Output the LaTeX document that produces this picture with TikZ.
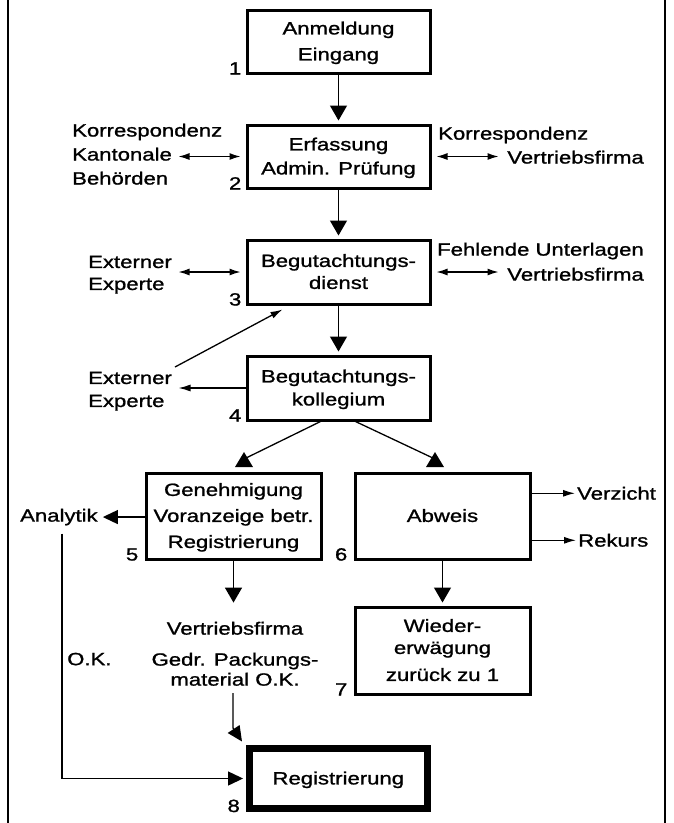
\documentclass[tikz,border=0pt]{standalone}
\usepackage{fontspec}
\setmainfont{Liberation Sans}[FakeStretch=1.25,FakeBold=1.2]
\usetikzlibrary{arrows.meta}
\begin{document}
\begin{tikzpicture}[x=1pt,y=-1pt,
	every node/.style={inner sep=0pt,font=\fontsize{17.7}{24}\selectfont},
	kasten/.style={draw,line width=3pt,align=center,text depth=1pt,minimum width=183pt,minimum height=63pt},
	kastenklein/.style={kasten,minimum width=175pt,minimum height=86pt},
	etikett/.style={anchor=north west,align=left},
	nummer/.style={anchor=base east,xshift=-4pt},
	linie/.style={line width=1.3pt},
	pfeil/.style={linie,-{Triangle[length=15pt,width=17pt]},shorten >=3pt},
	doppel/.style={linie,{Latex[length=11pt,width=7pt]}-{Latex[length=11pt,width=7pt]}},
	einfach/.style={linie,-{Latex[length=12pt,width=7pt]}},
	gross/.style={linie,-{Triangle[length=15pt,width=14pt]}}]
	\useasboundingbox (0,0) rectangle (673,823);
	\draw[line width=1.5pt] (8,0) -- (8,823) (665,0) -- (665,823);

	\node[kasten] (anm) at (338.5,41.5) {Anmeldung\\[2pt]Eingang};
	\node[kasten] (erf) at (338.5,156.5) {Erfassung\\Admin. Prüfung};
	\node[kasten,minimum height=64pt] (gutd) at (338.5,272) {Begutachtungs-\\[-2pt]dienst};
	\node[kasten,minimum height=64pt] (kolleg) at (338.5,388) {Begutachtungs-\\[-1pt]kollegium};
	\node[kastenklein] (gen) at (233.5,516) {Genehmigung\\[2pt]Voranzeige betr.\\[2pt]Registrierung};
	\node[kastenklein] (abw) at (442.5,516) {Abweis};
	\node[kastenklein,minimum height=87pt] (wied) at (442.5,650.5) {Wieder-\\[-2pt]erwägung\\[3pt]zurück zu 1};
	\node[kasten,line width=7pt,minimum width=177.5pt,minimum height=60pt] (reg) at (338.3,778.5) {Registrierung};

	\node[nummer] (n1) at (anm.south west) {1};
	\node[nummer] (n2) at (erf.south west) {2};
	\node[nummer] (n3) at (gutd.south west) {3};
	\node[nummer] (n4) at (kolleg.south west) {4};
	\node[nummer,xshift=-2pt] (n5) at (gen.south west) {5};
	\node[nummer,xshift=-2pt] (n6) at (abw.south west) {6};
	\node[nummer,xshift=-2pt] (n7) at (wied.south west) {7};
	\node[nummer,xshift=-2pt] (n8) at (reg.south west) {8};

	\node[etikett] (korrL) at (72,123.5) {Korrespondenz\\Kantonale\\Behörden};
	\node[etikett] (korrR) at (438,126.6) {Korrespondenz};
	\node[anchor=north east] (vfR) at (644,150.5) {Vertriebsfirma};
	\node[etikett] (extL) at (88,255.6) {Externer\\[-2pt]Experte};
	\node[anchor=north east,align=right] (fehl) at (644,242.6) {Fehlende Unterlagen\\[1pt]Vertriebsfirma};
	\node[etikett] (extK) at (88,371.6) {Externer\\[-1pt]Experte};
	\node[etikett] (verz) at (577,486.6) {Verzicht};
	\node[etikett] (rek) at (578,533.6) {Rekurs};
	\node[etikett] (analytik) at (20,508.6) {Analytik};
	\node[etikett] (ok) at (67,652.6) {O.K.};
	\node[anchor=north,align=center] (vf) at (235,621.6) {Vertriebsfirma\\[7pt]Gedr. Packungs-\\[-4pt]material O.K.};

	\draw[pfeil] (anm) -- (erf);
	\draw[pfeil] (erf) -- (gutd);
	\draw[pfeil] (gutd) -- (kolleg);
	\draw[pfeil,shorten >=19pt] (gen) -- (gen.south |- vf.north);
	\draw[pfeil] (abw) -- (wied);

	\draw[doppel] ([xshift=-67pt]erf.west) -- ([xshift=-5pt]erf.west);
	\draw[doppel] ([xshift=5pt]erf.east) -- ([xshift=67pt]erf.east);
	\draw[doppel] ([xshift=-67pt]gutd.west) -- ([xshift=-5pt]gutd.west);
	\draw[doppel] ([xshift=5pt]gutd.east) -- ([xshift=67pt]gutd.east);
	\draw[einfach] (kolleg.west) -- ([xshift=-67pt]kolleg.west);
	\coordinate (extKne) at (175,367);
	\draw[einfach] (extKne) -- ([xshift=37pt,yshift=-4pt]gutd.south west);

	\coordinate (spitzeG) at ([xshift=10.5pt,yshift=4.5pt]gen.north);
	\coordinate (spitzeA) at ([xshift=-7.5pt,yshift=4.5pt]abw.north);
	\draw[linie] ([xshift=-18pt]kolleg.south) -- ([yshift=8pt]spitzeG);
	\draw[linie] ([xshift=17pt]kolleg.south) -- ([yshift=8pt]spitzeA);
	\fill (spitzeG) ++(-9,0) -- ++(18,0) -- ++(-9,-15) -- cycle;
	\fill (spitzeA) ++(-9,0) -- ++(18,0) -- ++(-9,-15) -- cycle;

	\draw[einfach,shorten >=2pt] (abw.east |- verz.west) -- (verz.west);
	\draw[einfach,shorten >=2pt] (abw.east |- rek.west) -- (rek.west);
	\draw[gross,shorten >=5pt] (gen.west |- analytik.east) -- (analytik.east);
	\draw[gross,shorten <=8pt,shorten >=3pt] ([xshift=3pt]analytik.south) |- (reg.west);
	\draw[gross] ([xshift=-2pt,yshift=-7pt]vf.south) -- ++(0,35) -- ++(9,13.5);
\end{tikzpicture}
\end{document}
